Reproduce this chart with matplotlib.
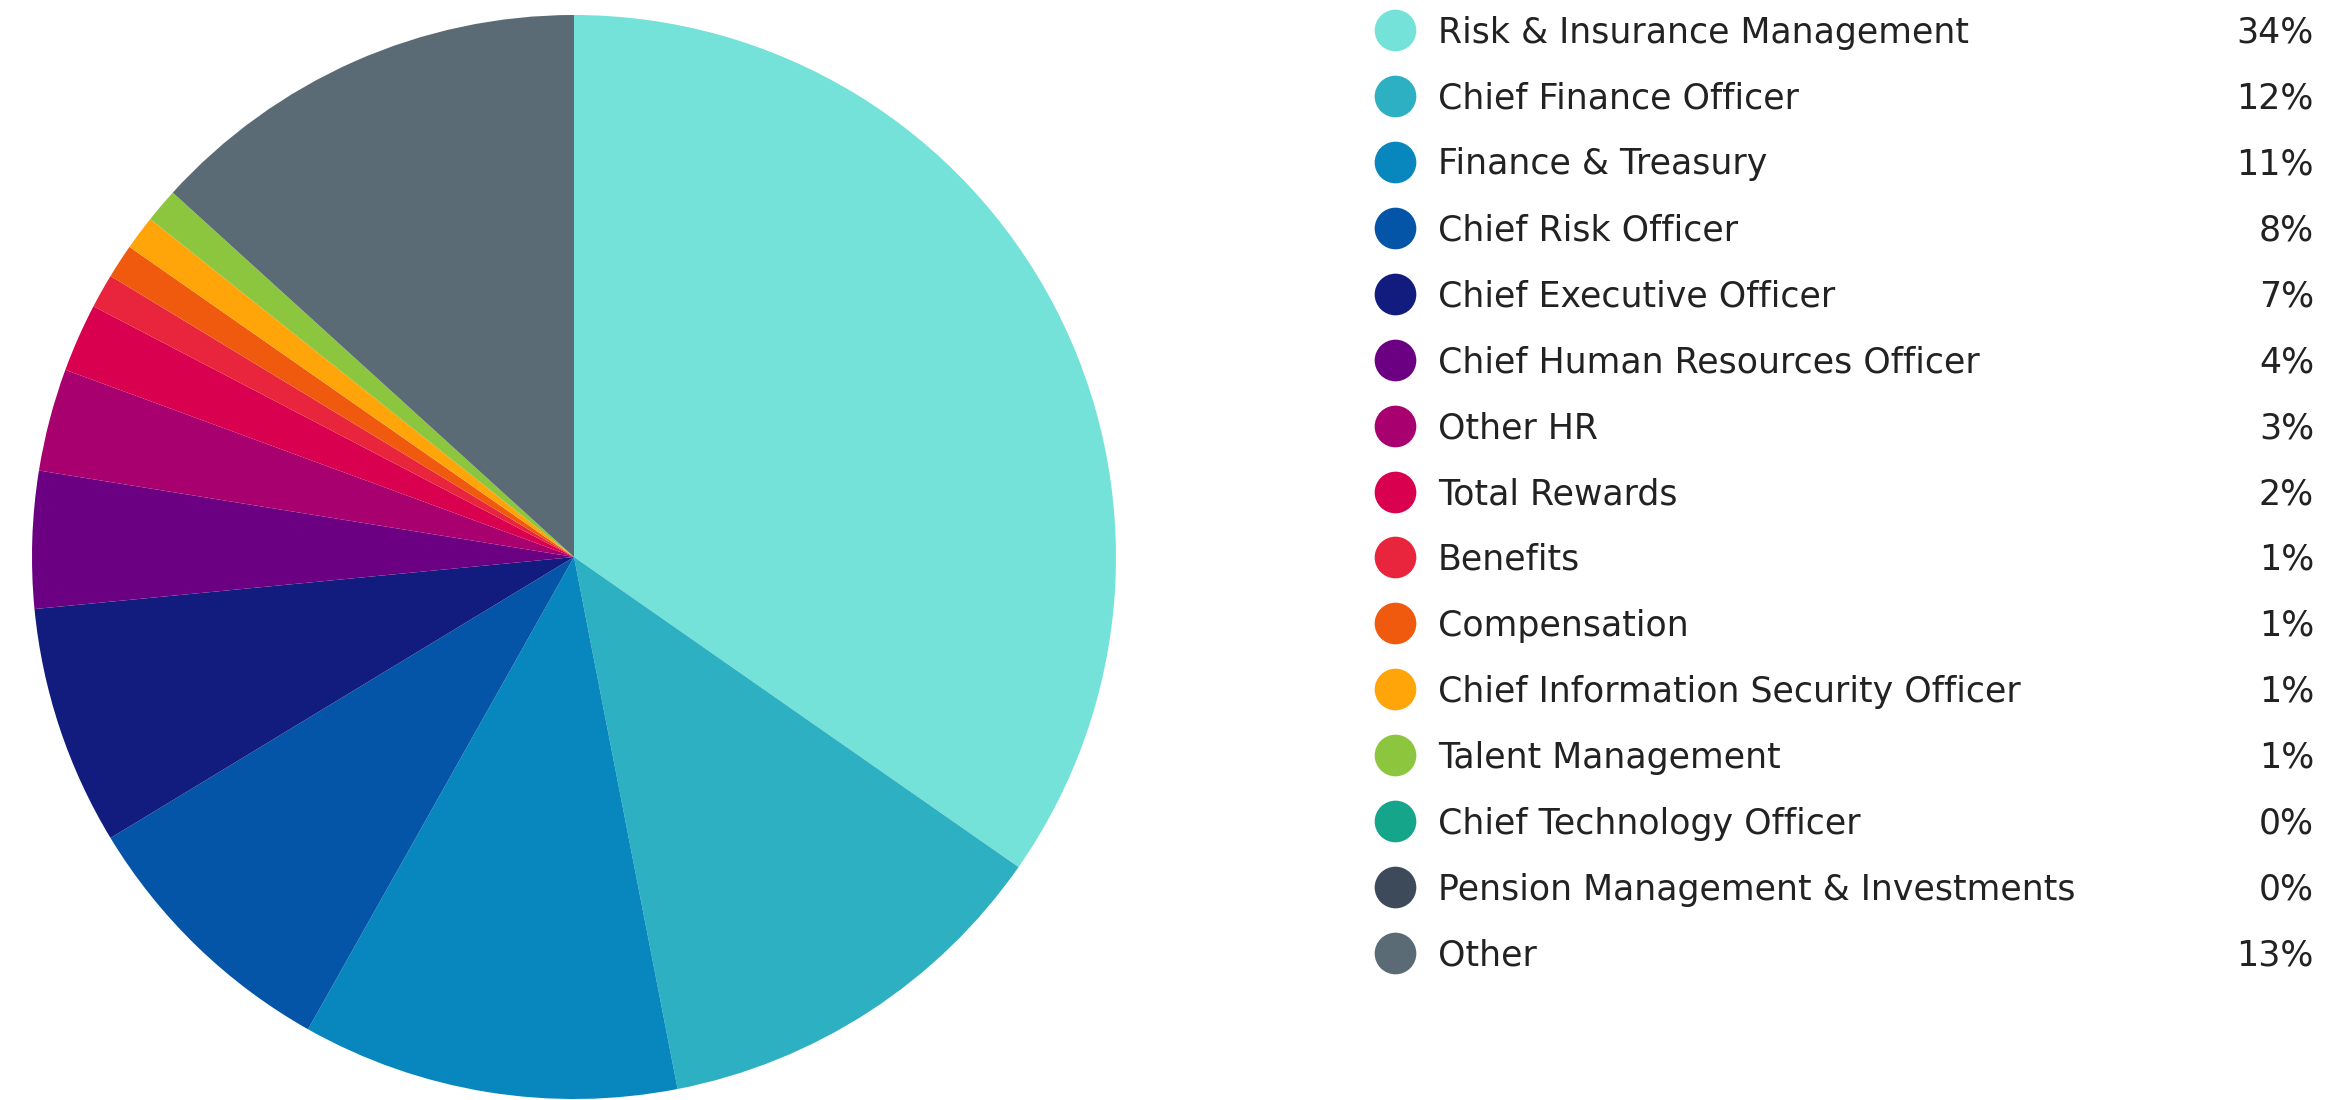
import matplotlib
matplotlib.use("Agg")
import matplotlib.pyplot as plt

# job functions and their share of respondents (%)
roles = [
    "Risk & Insurance Management",
    "Chief Finance Officer",
    "Finance & Treasury",
    "Chief Risk Officer",
    "Chief Executive Officer",
    "Chief Human Resources Officer",
    "Other HR",
    "Total Rewards",
    "Benefits",
    "Compensation",
    "Chief Information Security Officer",
    "Talent Management",
    "Chief Technology Officer",
    "Pension Management & Investments",
    "Other",
]
shares = [34, 12, 11, 8, 7, 4, 3, 2, 1, 1, 1, 1, 0, 0, 13]
colors = [
    "#74e2d8", "#2eb0c3", "#0787be", "#0455a8", "#121b7e",
    "#6b0082", "#a8006e", "#d9004f", "#e8253c", "#f05a0e",
    "#ffa50a", "#8cc63f", "#14a58a", "#3d4a5a", "#5b6b75",
]

W, H = 2331, 1100
fig = plt.figure(figsize=(W / 100, H / 100), dpi=100)
fig.patch.set_facecolor("white")

# pie: centre (574, 557) px, radius 542 px
cx, cy, r = 574, 557, 542
ax = fig.add_axes([(cx - r) / W, (H - cy - r) / H, 2 * r / W, 2 * r / H])
ax.pie(shares, colors=colors, startangle=90, counterclock=False, radius=1,
       wedgeprops=dict(linewidth=0))
ax.set_xlim(-1, 1)
ax.set_ylim(-1, 1)
ax.set_aspect("auto")
ax.axis("off")

# legend drawn in pixel coordinates
lg = fig.add_axes([0, 0, 1, 1])
lg.set_xlim(0, W)
lg.set_ylim(H, 0)
lg.axis("off")
lg.patch.set_alpha(0)

row0, step = 30, 65.93
fs = 25
for i, (name, val, col) in enumerate(zip(roles, shares, colors)):
    y = row0 + i * step
    lg.scatter([1395], [y], s=900, color=col, linewidths=0, zorder=3)
    lg.text(1438, y + 12.5, name, fontsize=fs, family="DejaVu Sans",
            color="#222222", va="baseline", ha="left")
    lg.text(2314, y + 12.5, f"{val}%", fontsize=fs, family="DejaVu Sans",
            color="#222222", va="baseline", ha="right")

fig.savefig("out.png", dpi=100, facecolor="white")
